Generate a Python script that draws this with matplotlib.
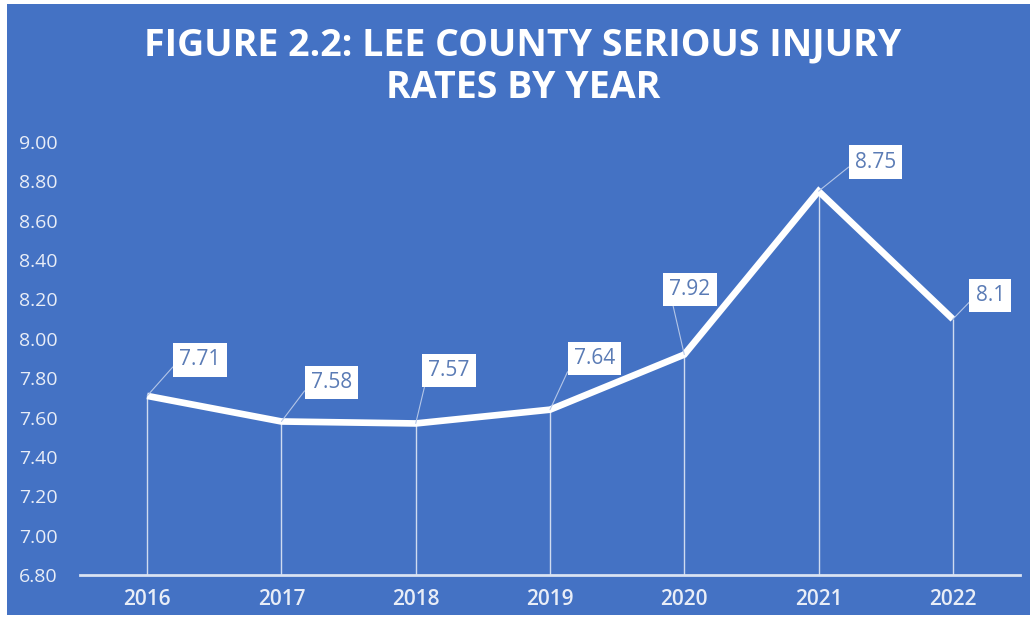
import matplotlib
matplotlib.use("Agg")
import matplotlib.pyplot as plt
from matplotlib.patches import Rectangle

years = ["2016", "2017", "2018", "2019", "2020", "2021", "2022"]
rates = [7.71, 7.58, 7.57, 7.64, 7.92, 8.75, 8.10]
rate_labels = ["7.71", "7.58", "7.57", "7.64", "7.92", "8.75", "8.1"]
y_ticks = [6.8, 7.0, 7.2, 7.4, 7.6, 7.8, 8.0, 8.2, 8.4, 8.6, 8.8, 9.0]

# where each data label box sits relative to its point (points)
label_offsets = [(38, 26), (36, 28), (24, 38), (32, 37), (4, 47), (41, 21), (27, 17)]

BLUE = "#4472C4"
LABEL_TEXT = "#5a7bb5"

fig = plt.figure(figsize=(10.3, 6.19), dpi=100)
W, H = 1030, 619
fig.patches.append(Rectangle((7 / W, 0), 1 - 7 / W, 1 - 4 / H,
                             transform=fig.transFigure, facecolor=BLUE,
                             edgecolor="none", zorder=-10))
# small white strip at the bottom
fig.patches.append(Rectangle((0, 0), 1, 4 / H, transform=fig.transFigure,
                             facecolor="white", edgecolor="none", zorder=-9))

ax = fig.add_axes([80 / W, 1 - 575 / H, 940 / W, 433 / H])
ax.set_facecolor("none")

x = list(range(len(years)))
ax.vlines(x, 6.8, rates, color="white", lw=1.0, alpha=0.75, zorder=2)
ax.plot(x, rates, color="white", lw=4.8, solid_joinstyle="miter",
        solid_capstyle="butt", zorder=3)

for xi, yi, lab, (dx, dy) in zip(x, rates, rate_labels, label_offsets):
    ax.annotate(lab, xy=(xi, yi), xytext=(dx, dy), textcoords="offset points",
                ha="center", va="center", fontsize=15, color=LABEL_TEXT,
                family="Open Sans",
                bbox=dict(boxstyle="square,pad=0.3", fc="white", ec="none"),
                arrowprops=dict(arrowstyle="-", color="#b4c6e7", lw=0.8,
                                shrinkA=0, shrinkB=0, relpos=(0, 0.5)),
                zorder=5)

ax.set_xlim(-0.5, len(years) - 0.5)
ax.set_ylim(6.8, 9.0)
ax.set_yticks(y_ticks)
ax.set_yticklabels([f"{v:.2f}" for v in y_ticks])
ax.set_xticks(x)
ax.set_xticklabels(years)

for s in ["top", "right", "left"]:
    ax.spines[s].set_visible(False)
ax.spines["bottom"].set_color("#dae3f3")
ax.spines["bottom"].set_linewidth(2)
ax.tick_params(length=0)
ax.tick_params(axis="y", pad=16, labelsize=14, labelcolor="#e8edf7")
ax.tick_params(axis="x", pad=10, labelsize=15, labelcolor="#e8edf7")
for t in ax.get_yticklabels():
    t.set_family("Open Sans")
for t in ax.get_xticklabels():
    t.set_family("Open Sans")
    t.set_fontweight("semibold")

title_lines = ["FIGURE 2.2: LEE COUNTY SERIOUS INJURY", "RATES BY YEAR"]
for line, ypix in zip(title_lines, [45, 88]):
    fig.text(523 / W, 1 - ypix / H, line, ha="center", va="center",
             color="white", fontsize=27, fontweight="bold", family="Open Sans")

fig.savefig("out.png", dpi=100)
